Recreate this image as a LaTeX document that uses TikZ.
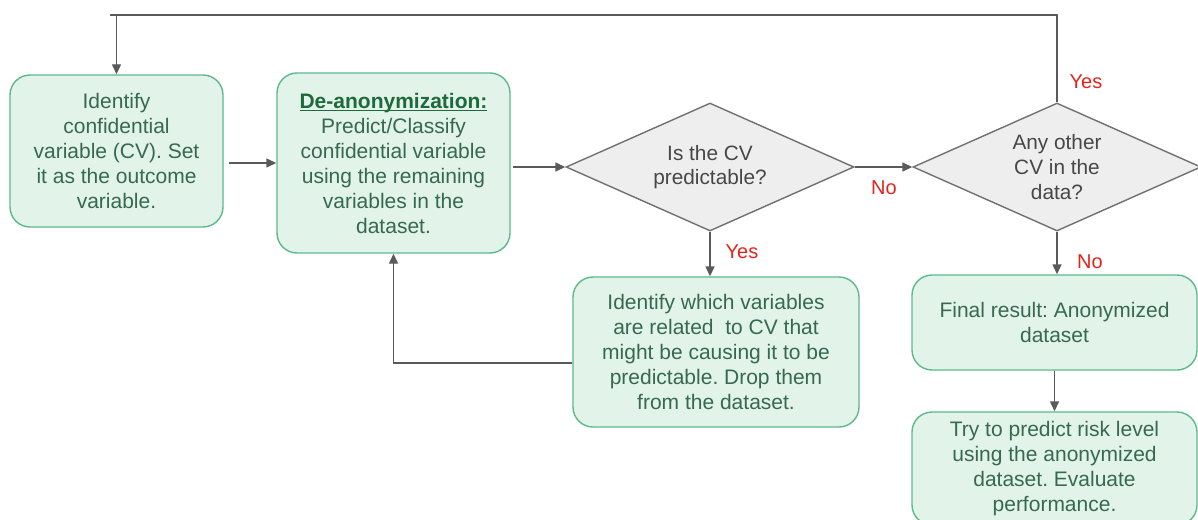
\documentclass[tikz,border=0pt]{standalone}
\usepackage{fontspec}
\setmainfont{Liberation Sans}
\usetikzlibrary{shapes.geometric,arrows.meta}
\definecolor{boxfill}{HTML}{E2F3E9}
\definecolor{boxline}{HTML}{5DB98C}
\definecolor{boxtext}{HTML}{37694F}
\definecolor{headtext}{HTML}{1D6A3B}
\definecolor{decfill}{HTML}{EEEEEE}
\definecolor{decline}{HTML}{707070}
\definecolor{dectext}{HTML}{474747}
\definecolor{linkcol}{HTML}{5A5A5A}
\definecolor{labred}{HTML}{E3241B}
\frenchspacing
% underline drawn just below the baseline
\newsavebox\undlbox
\newcommand\undl[1]{\sbox\undlbox{#1}\leavevmode\rlap{\usebox\undlbox}\rule[-1.4pt]{\wd\undlbox}{0.6pt}}
\begin{document}
\begin{tikzpicture}[x=0.5pt,y=-0.5pt,
  procbox/.style={rectangle,rounded corners=10pt,draw=boxline,fill=boxfill,
    line width=0.7pt,text=boxtext,align=center,inner sep=0pt,
    font=\fontsize{10.5}{12.5}\selectfont},
  decision/.style={diamond,aspect=2.25,draw=decline,fill=decfill,line width=0.7pt,
    text=dectext,align=center,inner sep=0pt,minimum width=144pt,minimum height=64pt,
    font=\fontsize{10.4}{12.3}\selectfont},
  link/.style={draw=linkcol,line width=0.7pt,-{Triangle[length=5pt,width=4.5pt]}},
  answer/.style={text=labred,font=\fontsize{10}{12}\selectfont,inner sep=0pt}]
\useasboundingbox (0,0) rectangle (1198,519);
\clip (0,0) rectangle (1198,519);
\coordinate (topy) at (0,15);

% process boxes
\node[procbox,minimum width=106.5pt,minimum height=76pt] (b1) at (116.5,151)
  {Identify\\confidential\\variable (CV). Set\\it as the outcome\\variable.};
\node[procbox,minimum width=116.5pt,minimum height=90pt] (b2) at (393.5,163)
  {{\bfseries\color{headtext}\undl{De-anonymization:}}\\Predict/Classify\\confidential variable\\using the remaining\\variables in the\\dataset.};
\node[procbox,minimum width=143pt,minimum height=75pt] (b3) at (716,352)
  {Identify which variables\\are related\ \ to CV that\\might be causing it to be\\predictable. Drop them\\from the dataset.};
\node[procbox,minimum width=142.5pt,minimum height=47.5pt] (b4) at (1054.5,322.5)
  {Final result: Anonymized\\dataset};
\node[procbox,minimum width=142.5pt,minimum height=56.5pt] (b5) at (1054.5,468.5)
  {Try to predict risk level\\using the anonymized\\dataset. Evaluate\\performance.};

% decisions
\node[decision] (d1) at (710,167) {Is the CV\\predictable?};
\node[decision] (d2) at (1057,167) {Any other\\CV in the\\data?};

% connectors
\draw[link,shorten <=2.5pt] (b1.east |- b2.center) -- (b2.west);
\draw[link,shorten <=1pt] (b2.east |- d1.center) -- (d1.west);
\draw[link] (d1.east) -- (d2.west);
\draw[link] (d1.south) -- (d1.south |- b3.north);
\draw[link] ([yshift=-5.5pt]b3.west) -| (b2.south);
\draw[link] (d2.south) -- (d2.south |- b4.north);
\draw[link] (b4.south) -- (b4.south |- b5.north);
\draw[link] (d2.north) |- (b1.north |- topy) -- (b1.north);
\draw[linkcol,line width=0.7pt] (b1.north |- topy) -- ++(-7,0);

% answer labels
\node[answer] (yes1) at (742,252) {Yes};
\node[answer] (no1) at (884,188) {No};
\node[answer] (yes2) at (1086,82) {Yes};
\node[answer] (no2) at (1090,262) {No};
\end{tikzpicture}
\end{document}
